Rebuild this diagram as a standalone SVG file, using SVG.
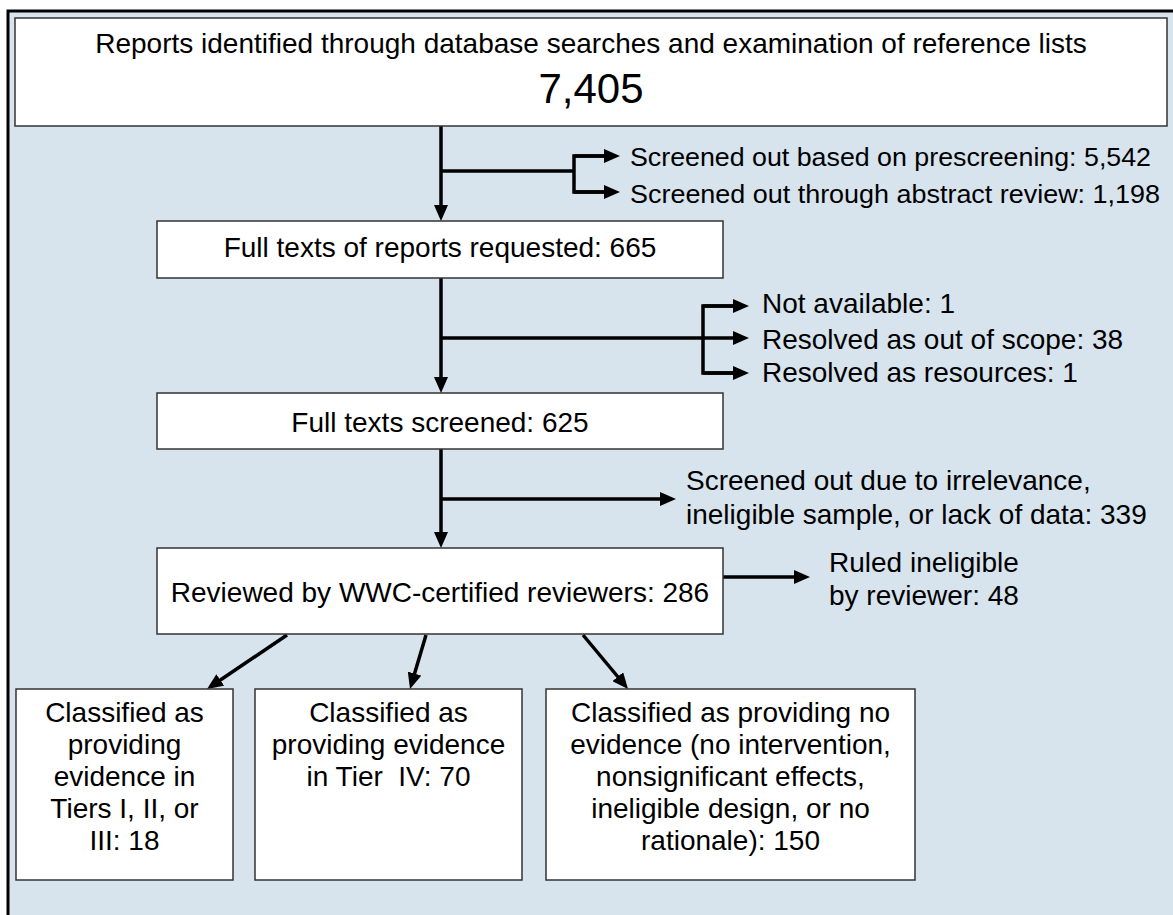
<svg xmlns="http://www.w3.org/2000/svg" width="1173" height="915" viewBox="0 0 1173 915">
<style>
.box{fill:#ffffff;stroke:#333333;stroke-width:1.5}
.t{font-family:"Liberation Sans",Arial,sans-serif;font-size:28px;fill:#000000}
.s{font-size:26.5px}
.c{text-anchor:middle}
.ln{fill:none;stroke:#000000;stroke-width:3.5}
.ar{fill:none;stroke:#000000;stroke-width:3.5;marker-end:url(#ah)}
</style>
<defs>
<marker id="ah" markerUnits="userSpaceOnUse" markerWidth="16" markerHeight="14" refX="3" refY="7" orient="auto">
<path d="M0,0 L16,7 L0,14 z" fill="#000000"/>
</marker>
</defs>
<rect id="frame" x="8" y="11" width="1200" height="1000" fill="#d7e4ee" stroke="#000000" stroke-width="3"/>
<g id="connectors">
<line class="ar" x1="441" y1="126" x2="441" y2="208"/>
<polyline class="ln" points="441,171 574,171"/>
<polyline class="ln" points="607,156 574,156 574,192 607,192"/>
<line class="ar" x1="574" y1="156" x2="607" y2="156"/>
<line class="ar" x1="574" y1="192" x2="607" y2="192"/>
<line class="ar" x1="441" y1="278" x2="441" y2="380"/>
<line class="ar" x1="441" y1="338" x2="736" y2="338"/>
<polyline class="ln" points="736,306 703,306 703,373 736,373"/>
<line class="ar" x1="703" y1="306" x2="736" y2="306"/>
<line class="ar" x1="703" y1="373" x2="736" y2="373"/>
<line class="ar" x1="441" y1="449" x2="441" y2="535"/>
<line class="ar" x1="441" y1="499" x2="663" y2="499"/>
<line class="ar" x1="723" y1="577" x2="797" y2="577"/>
<line class="ar" x1="287" y1="635" x2="217.8" y2="681.7"/>
<line class="ar" x1="426" y1="635" x2="413.7" y2="676.5"/>
<line class="ar" x1="583" y1="635" x2="619.7" y2="679"/>
</g>
<g id="n-identified">
<rect class="box" x="15" y="18" width="1152" height="108"/>
<text class="t c" x="591" y="53">Reports identified through database searches and examination of reference lists</text>
<text class="t c" x="591" y="103" style="font-size:42px">7,405</text>
</g>
<g id="n-screenout1">
<text class="t s" x="630" y="166" textLength="521" lengthAdjust="spacingAndGlyphs">Screened out based on prescreening: 5,542</text>
<text class="t s" x="630" y="203" textLength="530" lengthAdjust="spacingAndGlyphs">Screened out through abstract review: 1,198</text>
</g>
<g id="n-requested">
<rect class="box" x="157" y="221" width="566" height="57"/>
<text class="t c" x="440" y="257">Full texts of reports requested: 665</text>
</g>
<g id="n-excluded2">
<text class="t" x="762" y="313">Not available: 1</text>
<text class="t" x="762" y="349">Resolved as out of scope: 38</text>
<text class="t" x="762" y="382">Resolved as resources: 1</text>
</g>
<g id="n-screened">
<rect class="box" x="157" y="393" width="566" height="56"/>
<text class="t c" x="440" y="432">Full texts screened: 625</text>
</g>
<g id="n-irrelevant">
<text class="t" x="686" y="490">Screened out due to irrelevance,</text>
<text class="t" x="686" y="524">ineligible sample, or lack of data: 339</text>
</g>
<g id="n-reviewed">
<rect class="box" x="157" y="548" width="566" height="86"/>
<text class="t c" x="440" y="602">Reviewed by WWC-certified reviewers: 286</text>
</g>
<g id="n-ruled">
<text class="t" x="829" y="572">Ruled ineligible</text>
<text class="t" x="829" y="605">by reviewer: 48</text>
</g>
<g id="n-tier123">
<rect class="box" x="16" y="689" width="217" height="191"/>
<text class="t c" x="124.5" y="722">Classified as</text>
<text class="t c" x="124.5" y="754">providing</text>
<text class="t c" x="124.5" y="786">evidence in</text>
<text class="t c" x="124.5" y="818">Tiers I, II, or</text>
<text class="t c" x="124.5" y="850">III: 18</text>
</g>
<g id="n-tier4">
<rect class="box" x="255" y="689" width="267" height="191"/>
<text class="t c" x="388.5" y="722">Classified as</text>
<text class="t c" x="388.5" y="754">providing evidence</text>
<text class="t c" x="388.5" y="786" xml:space="preserve">in Tier  IV: 70</text>
</g>
<g id="n-noevidence">
<rect class="box" x="546" y="689" width="369" height="191"/>
<text class="t c" x="730.5" y="722">Classified as providing no</text>
<text class="t c" x="730.5" y="754">evidence (no intervention,</text>
<text class="t c" x="730.5" y="786">nonsignificant effects,</text>
<text class="t c" x="730.5" y="818">ineligible design, or no</text>
<text class="t c" x="730.5" y="850">rationale): 150</text>
</g>
</svg>
